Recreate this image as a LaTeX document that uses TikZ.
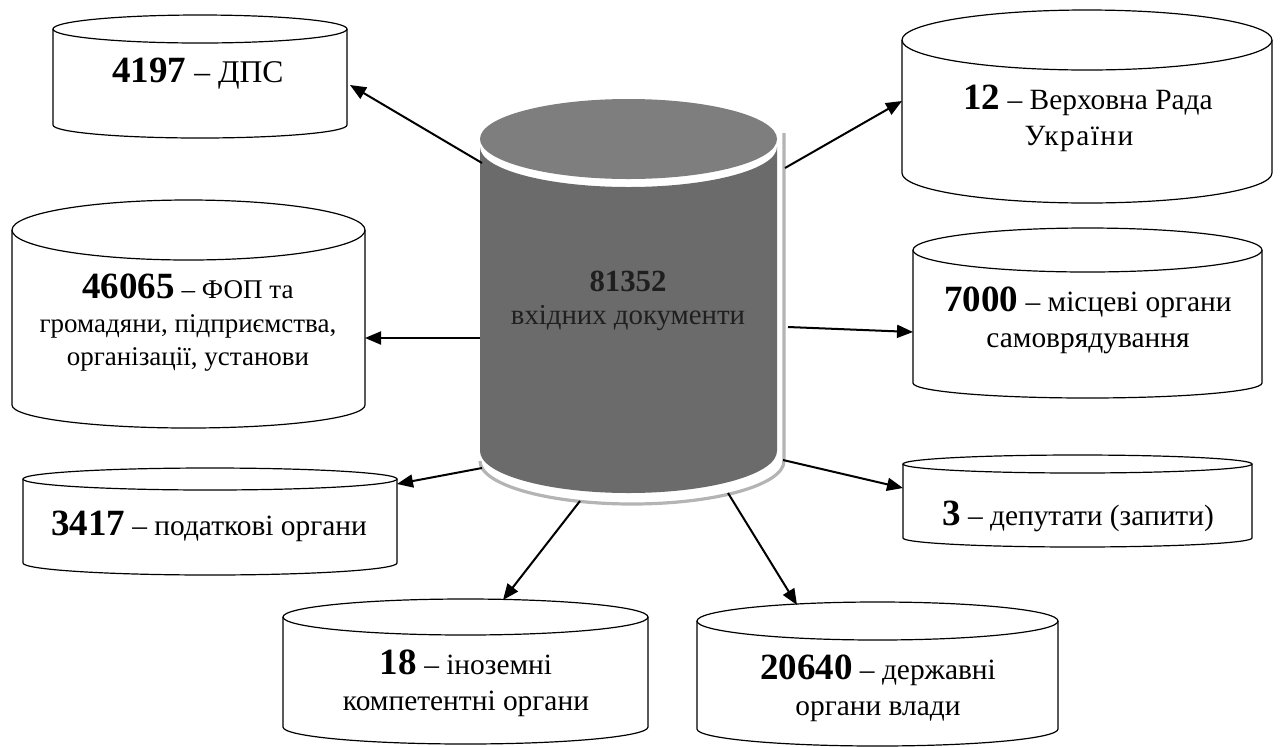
\documentclass[tikz,border=0pt]{standalone}
\usepackage{fontspec}
\setmainfont{Liberation Serif}
\usetikzlibrary{arrows.meta}
\definecolor{bodygray}{HTML}{6B6B6B}
\definecolor{topgray}{HTML}{7E7E7E}
\definecolor{rimgray}{HTML}{B4B4B4}
\tikzset{
  drumline/.style={draw=black, line width=0.6pt},
  lbl/.style={font=\fontsize{14.7}{18}\selectfont, align=center, inner sep=0pt, text=black},
  arr/.style={line width=1pt, -{Triangle[length=8pt,width=6.5pt]}}
}
\newcommand{\bnum}[1]{{\fontsize{18.5}{18}\selectfont\bfseries #1}}
\newcommand{\drum}[6]{% cx, rx, ytop, ybottom, ry top, ry bottom (pixels, y downwards)
  \fill[white] (#1-#2,-#3) -- (#1-#2,-#4) arc[start angle=180,end angle=360,x radius=#2,y radius=#6] -- (#1+#2,-#3) -- cycle;
  \draw[drumline] (#1-#2,-#3) -- (#1-#2,-#4) arc[start angle=180,end angle=360,x radius=#2,y radius=#6] -- (#1+#2,-#3);
  \draw[drumline, fill=white] (#1,-#3) ellipse[x radius=#2,y radius=#5];
}
\begin{document}
\begin{tikzpicture}[x=0.5pt,y=0.5pt]
\useasboundingbox (0,0) rectangle (1282,-746);

% ---- outer drums ----
\drum{200}{147}{29}{125}{14}{13}
\drum{1087}{185}{40}{173}{30}{30}
\drum{188.5}{176.5}{230}{405}{30}{23}
\drum{1087.5}{174.5}{250}{383}{22}{15}
\drum{210}{187}{479}{563}{11}{12}
\drum{1077.5}{174.5}{464}{538}{9}{9}
\drum{465.5}{182.5}{617}{727}{18}{17}
\drum{877.5}{180.5}{621}{729}{19}{17}

% ---- central drum ----
\draw[line width=1.6pt, rimgray] (480,-461) arc[start angle=180,end angle=360,x radius=152,y radius=43] -- (784,-133);
\fill[bodygray] (480,-147) -- (480,-451) arc[start angle=180,end angle=360,x radius=148.5,y radius=42] -- (777,-147) arc[start angle=360,end angle=180,x radius=148.5,y radius=40] -- cycle;
\fill[topgray] (628.5,-139) ellipse[x radius=148.5,y radius=40];

% ---- texts ----
\node[lbl, font=\fontsize{14.4}{16.5}\selectfont, text=black!88] (center) at (628,-301)
  {{\fontsize{15.4}{16.5}\selectfont\bfseries 81352}\\вхідних документи};
\node[lbl, font=\fontsize{15.8}{18}\selectfont, anchor=base] (n4197) at (198,-82) {\bnum{4197} – ДПС};
\node[lbl] (n12) at (1088,-118) {\bnum{12} – Верховна Рада\\{\addfontfeatures{LetterSpace=5}України}\hspace*{9pt}};
\node[lbl, font=\fontsize{13.5}{16.75}\selectfont] (n46065) at (188,-323) {\bnum{46065} – ФОП та\\громадяни, підприємства,\\організації, установи};
\node[lbl] (n7000) at (1088,-320) {\bnum{7000} – місцеві органи\\самоврядування};
\node[lbl, anchor=base] (n3417) at (209,-535) {\bnum{3417} – податкові органи};
\node[lbl, anchor=base] (n3) at (1078,-525) {\bnum{3} – депутати (запити)};
\node[lbl] (n18) at (466,-683) {\bnum{18} – іноземні\\компетентні органи};
\node[lbl] (n20640) at (878,-688) {\bnum{20640} – державні\\органи влади};

% ---- connector end points ----
\coordinate (s1) at (482,-163);  \coordinate (t1) at (350,-85);
\coordinate (s2) at (785,-168);  \coordinate (t2) at (902,-101);
\coordinate (s3) at (480,-338);  \coordinate (t3) at (365,-338);
\coordinate (s4) at (788,-327);  \coordinate (t4) at (913,-332);
\coordinate (s5) at (482,-468);  \coordinate (t5) at (397,-484);
\coordinate (s6) at (783,-460);  \coordinate (t6) at (903,-488);
\coordinate (s7) at (580,-501);  \coordinate (t7) at (503,-600);
\coordinate (s8) at (728,-493);  \coordinate (t8) at (797,-605);

\draw[arr] (s1) -- (t1);
\draw[arr] (s2) -- (t2);
\draw[arr] (s3) -- (t3);
\draw[arr] (s4) -- (t4);
\draw[arr] (s5) -- (t5);
\draw[arr] (s6) -- (t6);
\draw[arr] (s7) -- (t7);
\draw[arr] (s8) -- (t8);
\end{tikzpicture}
\end{document}
